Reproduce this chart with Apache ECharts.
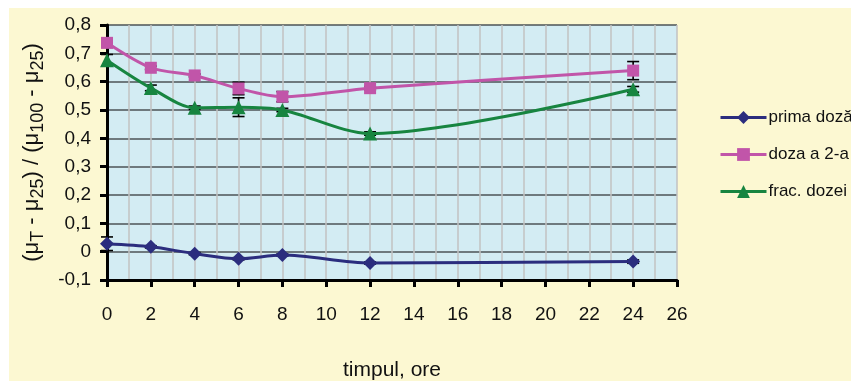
<!DOCTYPE html>
<html>
<head>
<meta charset="utf-8">
<script src="https://cdn.jsdelivr.net/npm/echarts@6/dist/echarts.min.js"></script>
<style>
  html, body { margin: 0; padding: 0; background: #ffffff; }
  #chart { width: 851px; height: 381px; }
</style>
</head>
<body>
<div id="chart"></div>
<script>
// Sampling times (hours)
const hours = [0, 2, 4, 6, 8, 12, 24];

// Normalised values per series
const primaDoza = [0.028, 0.017, -0.007, -0.025, -0.012, -0.040, -0.035];
const doza2     = [0.737, 0.649, 0.622, 0.576, 0.547, 0.577, 0.639];
const fracDozei = [0.676, 0.578, 0.508, 0.510, 0.500, 0.417, 0.573];

// Error bar half-widths per series
const errPrima = [0.024, 0.004, 0.004, 0.004, 0.004, 0.004, 0.006];
const errDoza2 = [0.016, 0.006, 0.005, 0.022, 0.018, 0.006, 0.032];
const errFrac  = [0.020, 0.010, 0.006, 0.033, 0.006, 0.006, 0.010];

// Axis ticks
const xTicks = { min: 0, max: 26, step: 2 };
const yTicks = { min: -0.1, max: 0.8, step: 0.1 };

const seriesNames = ['prima doză', 'doza a 2-a', 'frac. dozei'];
const colors = ['#2b2d7e', '#c155a9', '#178540'];
const symbols = ['diamond', 'rect', 'triangle'];
const symbolSizes = [14, 12, 14];
const values = [primaDoza, doza2, fracDozei];
const errors = [errPrima, errDoza2, errFrac];

const FONT = '"Liberation Sans", Arial, sans-serif';

const chart = echarts.init(document.getElementById('chart'), null, { renderer: 'canvas' });

function errorBarItem(params, api) {
  const x = api.value(0), y = api.value(1), e = api.value(2);
  const top = api.coord([x, y + e]);
  const bot = api.coord([x, y - e]);
  const hw = 6;
  const st = { stroke: '#000', lineWidth: 1.6 };
  return {
    type: 'group',
    children: [
      { type: 'line', shape: { x1: top[0], y1: top[1], x2: bot[0], y2: bot[1] }, style: st },
      { type: 'line', shape: { x1: top[0] - hw, y1: top[1], x2: top[0] + hw, y2: top[1] }, style: st },
      { type: 'line', shape: { x1: bot[0] - hw, y1: bot[1], x2: bot[0] + hw, y2: bot[1] }, style: st }
    ]
  };
}

const series = [];
values.forEach((vals, i) => {
  series.push({
    type: 'custom',
    name: seriesNames[i] + ' err',
    renderItem: errorBarItem,
    data: hours.map((h, k) => [h, vals[k], errors[i][k]]),
    z: 1,
    silent: true
  });
});
values.forEach((vals, i) => {
  series.push({
    type: 'line',
    name: seriesNames[i],
    data: hours.map((h, k) => [h, vals[k]]),
    smooth: 0.3,
    symbol: symbols[i],
    symbolSize: symbolSizes[i],
    showAllSymbol: true,
    lineStyle: { color: colors[i], width: 3 },
    itemStyle: { color: colors[i] },
    z: 3
  });
});

const fmt = v => {
  const r = Math.round(v * 10) / 10;
  if (r === 0) return '0';
  return r.toFixed(1).replace('.', ',');
};

chart.setOption({
  animation: false,
  backgroundColor: 'transparent',
  graphic: [{
    type: 'rect',
    z: -100,
    silent: true,
    shape: { x: 9, y: 8, width: 842, height: 373 },
    style: { fill: '#fcf8d2' }
  }],
  grid: {
    left: 107, right: 174, top: 25, bottom: 101,
    containLabel: false,
    outerBoundsMode: 'none',
    show: true,
    backgroundColor: '#d3ecf3',
    borderWidth: 0
  },
  legend: {
    data: seriesNames.map((n, i) => ({
      name: n,
      itemStyle: { color: colors[i] },
      lineStyle: { color: colors[i], width: 3 }
    })),
    orient: 'vertical',
    left: 714,
    top: 104,
    itemWidth: 46,
    itemHeight: 16,
    itemGap: 20,
    textStyle: { fontFamily: FONT, fontSize: 17, color: '#111', padding: [0, 0, 0, -3] }
  },
  xAxis: {
    type: 'value',
    min: xTicks.min, max: xTicks.max, interval: xTicks.step,
    name: 'timpul, ore',
    nameLocation: 'middle',
    nameGap: 80,
    nameTextStyle: { fontFamily: FONT, fontSize: 21, color: '#111' },
    axisLine: { onZero: false, lineStyle: { color: '#000', width: 3 } },
    axisTick: { show: true, inside: false, length: 7, lineStyle: { color: '#000', width: 3 } },
    axisLabel: { margin: 25, fontFamily: FONT, fontSize: 19, color: '#111' },
    splitLine: { show: true, lineStyle: { color: '#c2c2c2', width: 1.5 } },
    minorTick: { show: false, splitNumber: 2 },
    minorSplitLine: { show: true, lineStyle: { color: '#c2c2c2', width: 1.5 } }
  },
  yAxis: {
    type: 'value',
    min: yTicks.min, max: yTicks.max, interval: yTicks.step,
    name: '{m|(μ}{s|T}{m| - μ}{s|25}{m|) / (μ}{s|100}{m| - μ}{s|25}{m|)}',
    nameLocation: 'middle',
    nameRotate: 90,
    nameGap: 53,
    nameTextStyle: {
      fontFamily: FONT,
      color: '#111',
      rich: {
        m: { fontFamily: FONT, fontSize: 22, color: '#111', lineHeight: 30, verticalAlign: 'middle' },
        s: { fontFamily: FONT, fontSize: 18, color: '#111', lineHeight: 30, verticalAlign: 'bottom' }
      }
    },
    axisLine: { show: true, onZero: false, lineStyle: { color: '#000', width: 3 } },
    axisTick: { show: true, inside: false, length: 7, lineStyle: { color: '#000', width: 3 } },
    axisLabel: { margin: 16, formatter: fmt, fontFamily: FONT, fontSize: 19, color: '#111' },
    splitLine: { show: true, lineStyle: { color: '#4d5356', width: 1.5 } }
  },
  series: series
});
</script>
</body>
</html>
